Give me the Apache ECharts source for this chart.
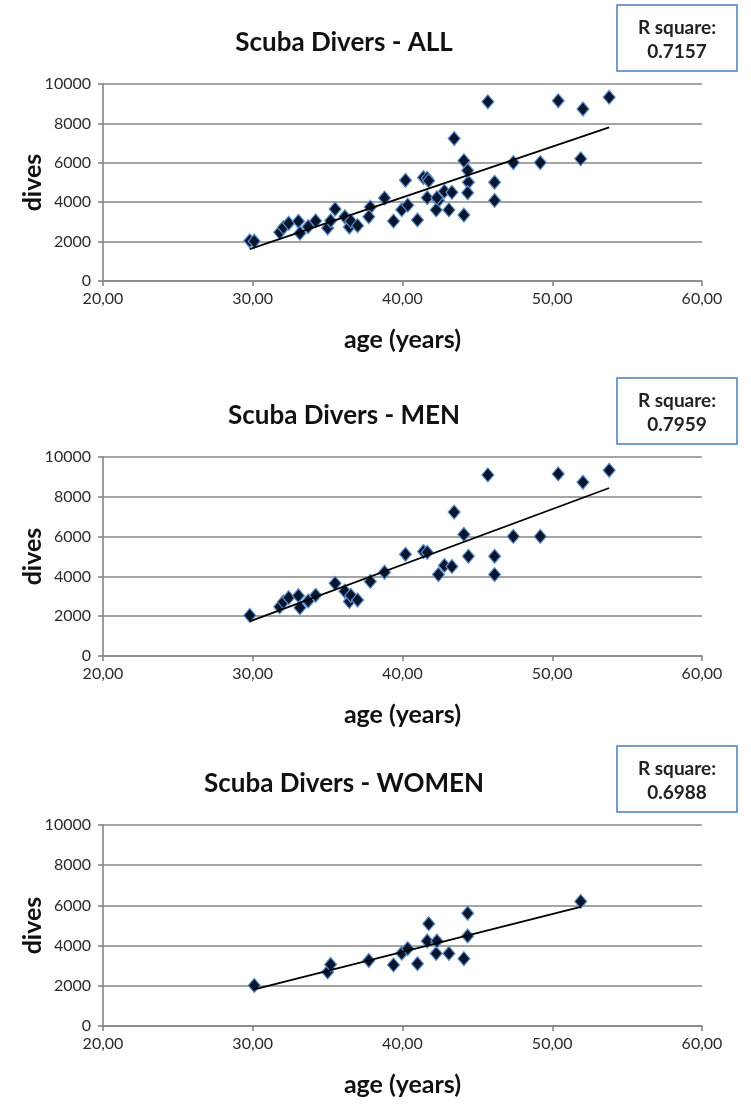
<!DOCTYPE html>
<html>
<head>
<meta charset="utf-8">
<script src="https://cdn.jsdelivr.net/npm/echarts@6/dist/echarts.min.js"></script>
<style>
html,body{margin:0;padding:0;background:#fff;}
#chart{width:751px;height:1110px;}
</style>
</head>
<body>
<div id="chart"></div>
<script>
// ---- data ----
const titles = ['Scuba Divers - ALL', 'Scuba Divers - MEN', 'Scuba Divers - WOMEN'];
const rSquare = ['0.7157', '0.7959', '0.6988'];

const menAge = [29.8, 31.8, 32.05, 32.4, 33.05, 33.15, 33.7, 34.2, 35.5, 36.15, 36.45, 36.55, 37.0, 37.85, 38.8, 40.2, 41.4, 41.65, 42.4, 42.8, 43.3, 43.45, 44.1, 44.4, 45.7, 46.15, 46.15, 47.4, 49.2, 50.4, 52.05, 53.8];
const menDives = [2040, 2470, 2720, 2930, 3030, 2430, 2760, 3050, 3650, 3260, 2740, 3040, 2810, 3750, 4210, 5110, 5250, 5210, 4090, 4550, 4500, 7230, 6110, 5010, 9100, 5010, 4090, 6010, 6010, 9150, 8730, 9330];

const womenAge = [30.1, 35.0, 35.2, 37.75, 39.4, 39.95, 40.35, 41.0, 41.65, 41.75, 42.25, 42.3, 43.1, 44.1, 44.35, 44.35, 51.9];
const womenDives = [2020, 2690, 3060, 3260, 3040, 3620, 3850, 3100, 4230, 5090, 3610, 4230, 3610, 3350, 5610, 4480, 6200];

// trend line end points (age, dives)
const trendAllAge = [29.8, 53.8], trendAllDives = [1620, 7800];
const trendMenAge = [29.8, 53.8], trendMenDives = [1740, 8440];
const trendWomenAge = [30.1, 51.9], trendWomenDives = [1820, 5930];

const xTicks = [20, 30, 40, 50, 60];
const yTicks = [0, 2000, 4000, 6000, 8000, 10000];

// ---- build ----
const zip = (a, b) => a.map((v, i) => [v, b[i]]);
const allPts = zip(menAge, menDives).concat(zip(womenAge, womenDives));
const sets = [
  {pts: allPts, trend: zip(trendAllAge, trendAllDives)},
  {pts: zip(menAge, menDives), trend: zip(trendMenAge, trendMenDives)},
  {pts: zip(womenAge, womenDives), trend: zip(trendWomenAge, trendWomenDives)}
];

const FONT = 'Lato, "Open Sans", sans-serif';
const offsets = [0, 373, 741];
const gridTop = [84, 457, 825];
const gridH = [197, 199, 201];

const grids = [], xAxes = [], yAxes = [], series = [], graphics = [];
sets.forEach((s, i) => {
  grids.push({left: 103, right: 49, top: gridTop[i], height: gridH[i], containLabel: false});
  xAxes.push({
    type: 'value', gridIndex: i, min: xTicks[0], max: xTicks[xTicks.length - 1], interval: 10,
    name: 'age (years)', nameLocation: 'middle', nameGap: 46, nameMoveOverlap: false,
    nameTextStyle: {fontFamily: FONT, fontWeight: 'bold', fontSize: 25, color: '#111'},
    axisLine: {show: true, onZero: false, lineStyle: {color: '#868686', width: 1.6}},
    axisTick: {show: true, length: 5, lineStyle: {color: '#868686', width: 1.6}},
    axisLabel: {fontFamily: FONT, fontSize: 16, color: '#2b2b2b', margin: 10,
      formatter: v => v.toFixed(2).replace('.', ',')},
    splitLine: {show: false}
  });
  yAxes.push({
    type: 'value', gridIndex: i, min: yTicks[0], max: yTicks[yTicks.length - 1], interval: 2000,
    name: 'dives', nameLocation: 'middle', nameGap: 58, nameRotate: 90, nameMoveOverlap: false,
    nameTextStyle: {fontFamily: FONT, fontWeight: 'bold', fontSize: 25, color: '#111'},
    axisLine: {show: true, lineStyle: {color: '#868686', width: 1.6}},
    axisTick: {show: true, length: 5, lineStyle: {color: '#868686', width: 1.6}},
    axisLabel: {fontFamily: FONT, fontSize: 16, color: '#2b2b2b', margin: 12,
      formatter: v => String(v)},
    splitLine: {show: true, lineStyle: {color: '#868686', width: 1.6}}
  });
  series.push({
    type: 'scatter', xAxisIndex: i, yAxisIndex: i, data: s.pts,
    symbol: 'diamond', symbolSize: [12, 14],
    itemStyle: {color: '#08152b', borderColor: '#5b8fd0', borderWidth: 1.2, opacity: 1},
    z: 3
  });
  series.push({
    type: 'line', xAxisIndex: i, yAxisIndex: i, data: s.trend,
    symbol: 'none', lineStyle: {color: '#000', width: 1.7}, z: 4, silent: true
  });
  const o = offsets[i];
  graphics.push({
    type: 'text', x: 344, y: 43 + o,
    style: {text: titles[i], font: 'bold 26px ' + FONT, fill: '#111', align: 'center', verticalAlign: 'middle'}
  });
  graphics.push({
    type: 'rect', shape: {x: 617, y: 5 + o, width: 120, height: 66},
    style: {fill: '#fff', stroke: '#4a7ebb', lineWidth: 1.5}
  });
  graphics.push({
    type: 'text', x: 677, y: 28 + o,
    style: {text: 'R square:', font: 'bold 19px ' + FONT, fill: '#222', align: 'center', verticalAlign: 'middle'}
  });
  graphics.push({
    type: 'text', x: 677, y: 52 + o,
    style: {text: rSquare[i], font: 'bold 19px ' + FONT, fill: '#222', align: 'center', verticalAlign: 'middle'}
  });
});

const chart = echarts.init(document.getElementById('chart'), null, {renderer: 'canvas'});
chart.setOption({
  animation: false,
  backgroundColor: '#fff',
  grid: grids, xAxis: xAxes, yAxis: yAxes, series: series,
  graphic: graphics
});
</script>
</body>
</html>
